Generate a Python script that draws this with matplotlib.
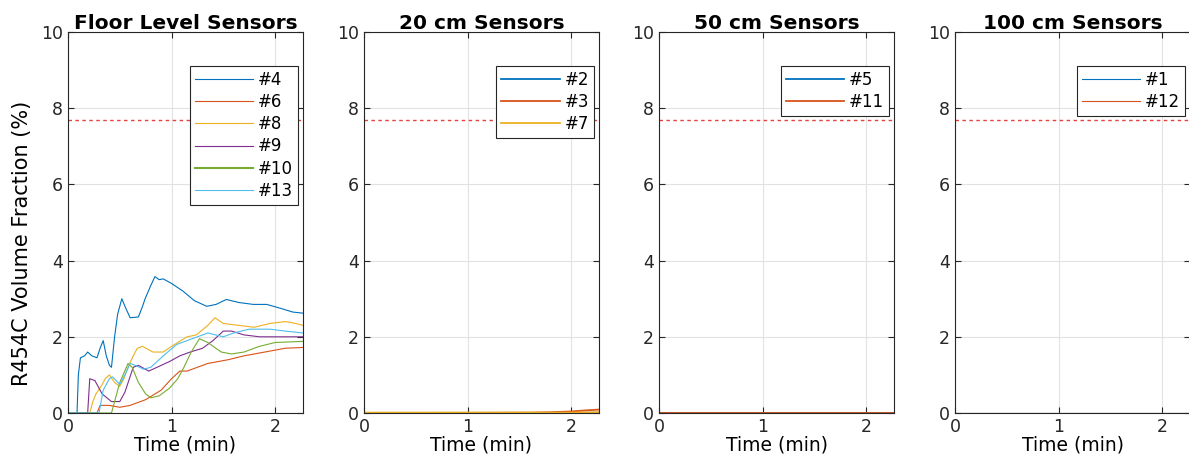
import matplotlib.pyplot as plt

# MATLAB default line colours
colors = ['#0072BD', '#D95319', '#EDB120', '#7E2F8E', '#77AC30', '#4DBEEE']

# Floor level sensors (time in min, volume fraction in %)
t4 = [0.0, 0.087, 0.10, 0.12, 0.16, 0.19, 0.23, 0.28, 0.31, 0.34, 0.37, 0.40, 0.42, 0.45, 0.48, 0.52, 0.55,
      0.60, 0.68, 0.72, 0.745, 0.80, 0.84, 0.88, 0.92, 1.00, 1.11, 1.22, 1.34, 1.43, 1.53, 1.65, 1.79, 1.92,
      2.05, 2.17, 2.27]
v4 = [0.0, 0.0, 1.0, 1.45, 1.5, 1.6, 1.5, 1.45, 1.7, 1.9, 1.5, 1.25, 1.2, 2.0, 2.6, 3.0, 2.8,
      2.5, 2.52, 2.8, 3.0, 3.35, 3.58, 3.5, 3.52, 3.4, 3.2, 2.95, 2.8, 2.85, 2.98, 2.9, 2.85, 2.85,
      2.75, 2.65, 2.62]

t6 = [0.0, 0.28, 0.31, 0.40, 0.50, 0.60, 0.75, 0.90, 1.00, 1.08, 1.15, 1.25, 1.35, 1.55, 1.70, 1.90, 2.10, 2.27]
v6 = [0.0, 0.0, 0.2, 0.2, 0.15, 0.2, 0.35, 0.6, 0.9, 1.1, 1.1, 1.2, 1.3, 1.4, 1.5, 1.6, 1.7, 1.72]

t8 = [0.0, 0.21, 0.24, 0.27, 0.32, 0.36, 0.40, 0.45, 0.50, 0.54, 0.58, 0.63, 0.67, 0.72, 0.82, 0.92, 1.00,
      1.15, 1.24, 1.35, 1.42, 1.50, 1.65, 1.80, 1.95, 2.10, 2.20, 2.27]
v8 = [0.0, 0.0, 0.3, 0.5, 0.7, 0.9, 1.0, 0.8, 0.7, 0.9, 1.2, 1.5, 1.7, 1.75, 1.6, 1.6, 1.75,
      2.0, 2.05, 2.3, 2.5, 2.35, 2.3, 2.25, 2.35, 2.4, 2.35, 2.3]

t9 = [0.0, 0.19, 0.21, 0.26, 0.33, 0.42, 0.50, 0.55, 0.63, 0.68, 0.78, 0.86, 0.98, 1.08, 1.18, 1.30, 1.40,
      1.50, 1.58, 1.70, 1.85, 2.27]
v9 = [0.0, 0.0, 0.9, 0.85, 0.5, 0.3, 0.3, 0.55, 1.2, 1.25, 1.1, 1.2, 1.35, 1.5, 1.6, 1.7, 1.9,
      2.15, 2.15, 2.05, 2.0, 2.0]

t10 = [0.0, 0.42, 0.46, 0.50, 0.58, 0.62, 0.68, 0.75, 0.80, 0.88, 0.98, 1.06, 1.12, 1.19, 1.27, 1.35, 1.48,
       1.58, 1.70, 1.85, 2.00, 2.27]
v10 = [0.0, 0.0, 0.4, 0.8, 1.3, 1.2, 0.8, 0.5, 0.4, 0.45, 0.65, 0.9, 1.2, 1.6, 1.95, 1.85, 1.6,
       1.55, 1.6, 1.75, 1.85, 1.88]

t13 = [0.0, 0.30, 0.34, 0.40, 0.43, 0.50, 0.55, 0.60, 0.65, 0.73, 0.80, 0.92, 1.05, 1.20, 1.35, 1.50, 1.60,
       1.75, 1.95, 2.10, 2.27]
v13 = [0.0, 0.0, 0.6, 0.9, 0.95, 0.75, 1.0, 1.3, 1.25, 1.15, 1.2, 1.5, 1.8, 1.95, 2.1, 2.0, 2.1,
       2.2, 2.2, 2.15, 2.1]

# 20 cm sensors
t2 = [0.0, 1.0, 2.0, 2.27]
v2 = [0.0, 0.0, 0.0, 0.01]
t3 = [0.0, 1.0, 1.6, 1.8, 2.0, 2.15, 2.27]
v3 = [0.0, 0.005, 0.01, 0.02, 0.04, 0.07, 0.09]
t7 = [0.0, 1.0, 2.0, 2.27]
v7 = [0.01, 0.01, 0.01, 0.02]

# 50 cm and 100 cm sensors
t_flat = [0.0, 1.0, 2.0, 2.27]
v_flat = [0.0, 0.0, 0.0, 0.0]

limit = 7.7

panels = [
    ('Floor Level Sensors', [(t4, v4, '#4'), (t6, v6, '#6'), (t8, v8, '#8'),
                             (t9, v9, '#9'), (t10, v10, '#10'), (t13, v13, '#13')]),
    ('20 cm Sensors', [(t2, v2, '#2'), (t3, v3, '#3'), (t7, v7, '#7')]),
    ('50 cm Sensors', [(t_flat, v_flat, '#5'), (t_flat, v_flat, '#11')]),
    ('100 cm Sensors', [(t_flat, v_flat, '#1'), (t_flat, v_flat, '#12')]),
]
widths = [[0.8] * 6, [1.3, 1.3, 1.3], [1.3, 1.3], [0.8, 0.8]]

plt.rcParams['font.family'] = 'DejaVu Sans'
fig = plt.figure(figsize=(11.89, 4.73), dpi=100)

lefts = [68, 364, 659, 955]
for i, (title, series) in enumerate(panels):
    ax = fig.add_axes([lefts[i] / 1189, 60 / 473, 235 / 1189, 381 / 473])
    for j, (t, v, lab) in enumerate(series):
        ax.plot(t, v, color=colors[j], lw=widths[i][j], label=lab)
    ax.axhline(limit, color='#E8413C', lw=1.0, ls=(0, (2.5, 2.5)))
    ax.set_xlim(0, 2.27)
    ax.set_ylim(0, 10)
    ax.set_xticks([0, 1, 2])
    ax.set_yticks([0, 2, 4, 6, 8, 10])
    ax.grid(True, color='#E2E2E2', lw=0.8)
    ax.set_axisbelow(True)
    ax.tick_params(direction='in', top=True, right=True, labelsize=12.5, length=4, colors='#262626')
    for s in ax.spines.values():
        s.set_color('#262626')
        s.set_linewidth(0.8)
    ax.set_title(title, fontsize=14.5, fontweight='bold', pad=2)
    ax.set_xlabel('Time (min)', fontsize=13.5, labelpad=0)
    if i == 0:
        ax.set_ylabel('R454C Volume Fraction (%)', fontsize=15)
        ax.yaxis.set_label_coords(-0.155, 0.445)
    leg = ax.legend(loc='upper right', bbox_to_anchor=(0.979, 0.911), borderaxespad=0,
                    fontsize=12, handlelength=3.5, handletextpad=0.3, labelspacing=0.25,
                    borderpad=0.3, fancybox=False, framealpha=1)
    leg.get_frame().set_edgecolor('#262626')
    leg.get_frame().set_linewidth(0.8)
    if i == 0:
        leg.get_lines()[4].set_linewidth(1.5)

fig.savefig('out.png', dpi=100)
